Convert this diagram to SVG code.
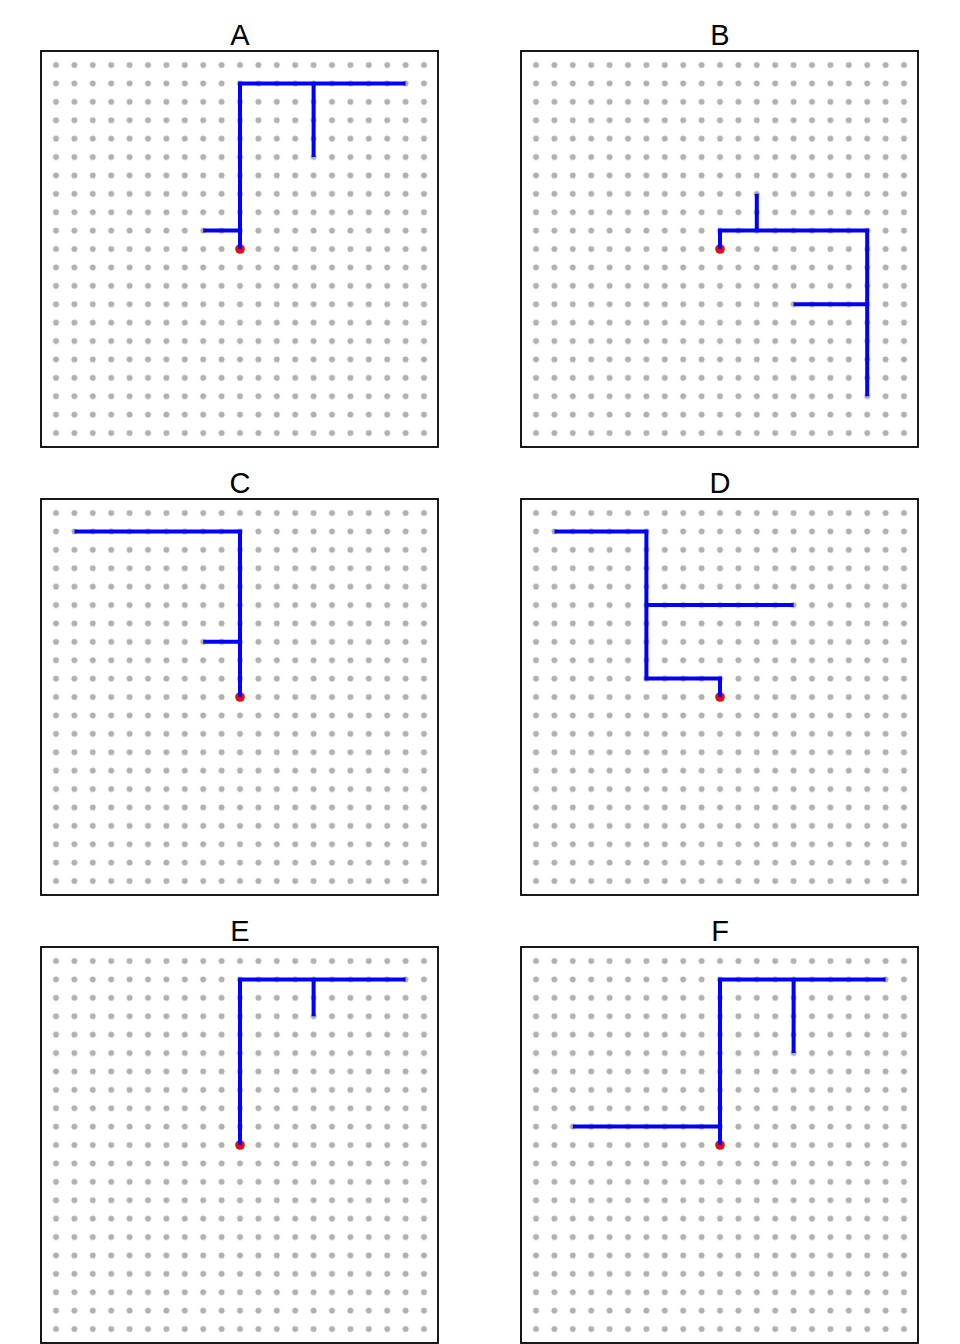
<svg xmlns="http://www.w3.org/2000/svg" width="960" height="1344" viewBox="0 0 960 1344">
<defs>
<pattern id="dots" x="46.8" y="55.8" width="18.4" height="18.4" patternUnits="userSpaceOnUse">
<circle cx="9.2" cy="9.2" r="3" fill="#b0b0b0"/>
</pattern>
<style>
.box{fill:#fff;stroke:#000;stroke-width:1.8}
.grid{fill:url(#dots)}
.path{fill:none;stroke:#0000ff;stroke-width:4;stroke-linejoin:miter}
.origin{fill:#ff0000}
.label{font-family:"Liberation Sans",Arial,sans-serif;font-size:29px;text-anchor:middle;fill:#000}
</style>
</defs>
<rect width="960" height="1344" fill="#fff"/>
<g id="panelA">
<text class="label" x="240" y="45">A</text>
<rect class="box" x="41" y="51" width="397" height="396"/>
<rect class="grid" x="46.8" y="55.8" width="386.4" height="386.4"/>
<circle class="origin" cx="240" cy="249" r="4.8"/>
<path class="path" d="M240,249 V83.4 H405.6 M313.6,83.4 V157 M240,230.6 H203.2"/>
</g>
<g id="panelB" transform="translate(480,0)">
<text class="label" x="240" y="45">B</text>
<rect class="box" x="41" y="51" width="397" height="396"/>
<rect class="grid" x="46.8" y="55.8" width="386.4" height="386.4"/>
<circle class="origin" cx="240" cy="249" r="4.8"/>
<path class="path" d="M240,249 V230.6 H387.2 V396.2 M276.8,230.6 V193.8 M313.6,304.2 H387.2"/>
</g>
<g id="panelC" transform="translate(0,448)">
<text class="label" x="240" y="45">C</text>
<rect class="box" x="41" y="51" width="397" height="396"/>
<rect class="grid" x="46.8" y="55.8" width="386.4" height="386.4"/>
<circle class="origin" cx="240" cy="249" r="4.8"/>
<path class="path" d="M240,249 V83.4 H74.4 M240,193.8 H203.2"/>
</g>
<g id="panelD" transform="translate(480,448)">
<text class="label" x="240" y="45">D</text>
<rect class="box" x="41" y="51" width="397" height="396"/>
<rect class="grid" x="46.8" y="55.8" width="386.4" height="386.4"/>
<circle class="origin" cx="240" cy="249" r="4.8"/>
<path class="path" d="M240,249 V230.6 H166.4 V83.4 H74.4 M166.4,157 H313.6"/>
</g>
<g id="panelE" transform="translate(0,896)">
<text class="label" x="240" y="45">E</text>
<rect class="box" x="41" y="51" width="397" height="396"/>
<rect class="grid" x="46.8" y="55.8" width="386.4" height="386.4"/>
<circle class="origin" cx="240" cy="249" r="4.8"/>
<path class="path" d="M240,249 V83.4 H405.6 M313.6,83.4 V120.2"/>
</g>
<g id="panelF" transform="translate(480,896)">
<text class="label" x="240" y="45">F</text>
<rect class="box" x="41" y="51" width="397" height="396"/>
<rect class="grid" x="46.8" y="55.8" width="386.4" height="386.4"/>
<circle class="origin" cx="240" cy="249" r="4.8"/>
<path class="path" d="M240,249 V83.4 H405.6 M313.6,83.4 V157 M240,230.6 H92.8"/>
</g>
</svg>
